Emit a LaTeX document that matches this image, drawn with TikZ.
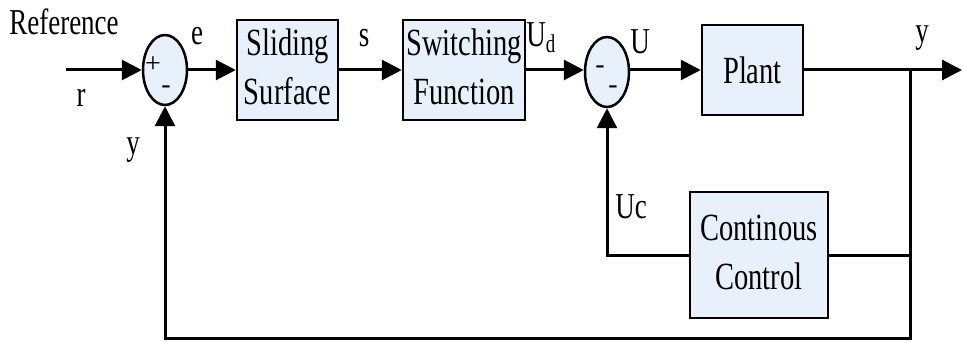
\documentclass[tikz,border=0pt]{standalone}
\usepackage{fontspec}
\setmainfont{Liberation Serif}
\usetikzlibrary{arrows.meta,shapes.geometric}
\definecolor{boxfill}{RGB}{232,241,251}
\newcommand{\vs}[1]{\scalebox{1}[1.35]{#1}}
\begin{document}
\begin{tikzpicture}[x=1pt,y=-1pt,
  font=\fontsize{27}{37}\selectfont,
  blk/.style={draw, line width=2.5pt, fill=boxfill, minimum width=#1, minimum height=90pt, inner sep=0pt, font=\fontsize{28.5}{37}\selectfont},
  sumnode/.style={draw, ellipse, line width=2.5pt, fill=boxfill, minimum width=44pt, minimum height=70pt, inner sep=0pt},
  conn/.style={line width=3pt, -{Triangle[length=20pt,width=20pt]}},
  plainline/.style={line width=3pt},
  lbl/.style={inner sep=0pt},
  sign/.style={inner sep=0pt, font=\fontsize{28}{28}\selectfont}]
\useasboundingbox (0,0) rectangle (963,342);
% blocks
\node[sumnode] (s1) at (165,70) {};
\node[blk=101pt] (ss) at (287.5,70) {\vs{\begin{tabular}{@{}c@{}}Sliding\\Surface\end{tabular}}};
\node[blk=122pt] (sf) at (464,70) {\vs{\begin{tabular}{@{}c@{}}Switching\\Function\end{tabular}}};
\node[sumnode] (s2) at (607,72) {};
\node[blk=101pt] (pl) at (752.5,70) {\vs{Plant}};
\node[blk=138pt, minimum height=126pt] (cc) at (759,255) {\vs{\begin{tabular}{@{}c@{}}Continous\\Control\end{tabular}}};
% signs
\node[sign] (p1) at (153,65) {+};
\node[sign] (m1) at (166,90) {-};
\node[sign] (m2) at (600,70) {-};
\node[sign] (m3) at (613,90) {-};
% coordinates
\coordinate (in) at (66,70);
\coordinate (out) at (962,70);
\coordinate (br) at (910,70);
\coordinate (bot) at (910,338);
\coordinate (ccin) at (910,255);
% connectors
\draw[conn] (in) -- (s1.west);
\draw[conn] (s1.east) -- (ss.west);
\draw[conn] (ss.east) -- (sf.west);
\draw[conn] (sf.east) -- (s2.west |- sf.east);
\draw[conn] (s2.east |- pl.west) -- (pl.west);
\draw[conn] (pl.east) -- (out);
\draw[conn] (br) -- (bot) -| (s1.south);
\draw[plainline] (ccin) -- (cc.east);
\draw[conn] (cc.west) -| (s2.south);
% labels
\node[lbl] (lref) at (64,22) {\vs{Reference}};
\node[lbl] (lr) at (81,98) {\vs{r}};
\node[lbl] (le) at (197,36) {\vs{e}};
\node[lbl] (ly1) at (133,150) {\vs{y}};
\node[lbl] (ls) at (364,38) {\vs{s}};
\node[lbl] (lud) at (541,38) {\vs{U\textsubscript{d}}};
\node[lbl] (lu) at (640,42) {\vs{U}};
\node[lbl] (ly2) at (922,38) {\vs{y}};
\node[lbl] (luc) at (631,207) {\vs{Uc}};
\end{tikzpicture}
\end{document}
